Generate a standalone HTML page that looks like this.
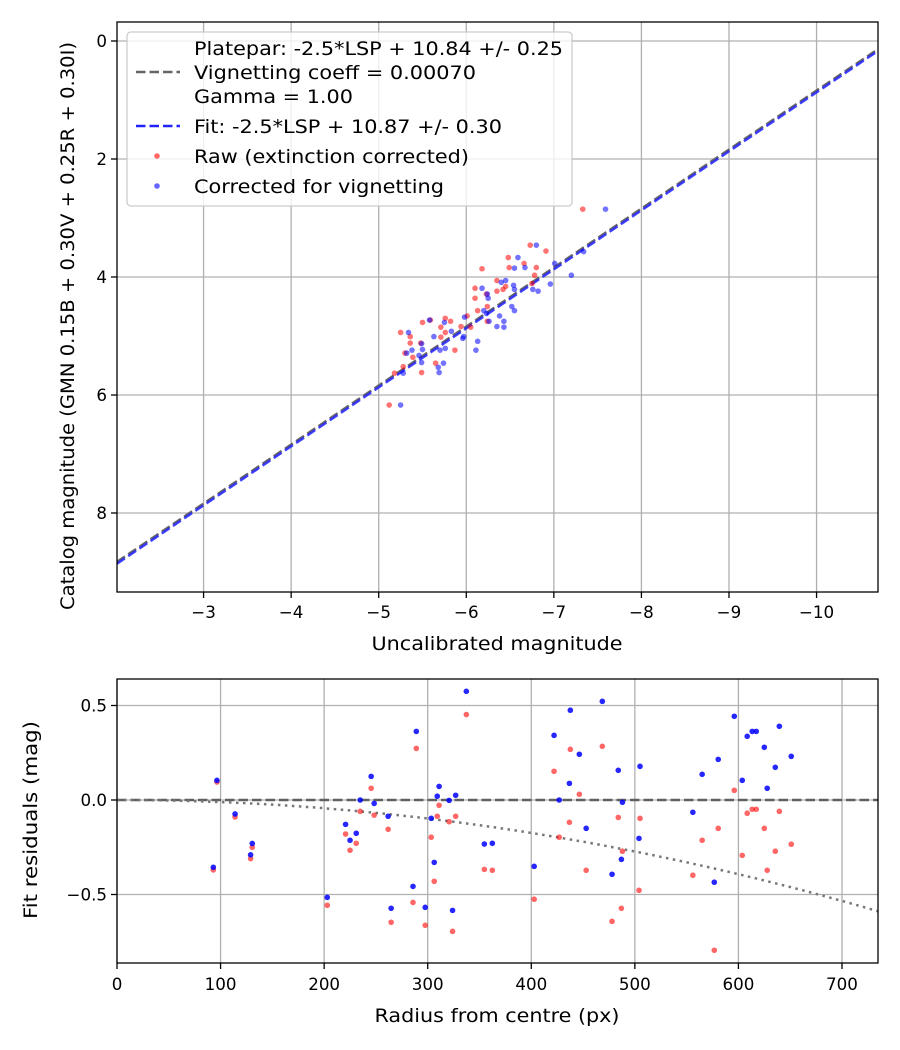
<!DOCTYPE html>
<html><head><meta charset="utf-8"><style>
html,body{margin:0;padding:0;background:#fff}
svg{display:block;font-family:"DejaVu Sans","Liberation Sans",sans-serif}
</style></head><body>
<svg id="chart" width="900" height="1050" viewBox="0 0 900 1050" xmlns="http://www.w3.org/2000/svg"></svg>
<script>
// ---- top panel data ----
const rawX = [-7.33,-6.73,-6.91,-6.48,-6.66,-6.18,-6.49,-6.80,-6.35,-6.78,-6.75,-6.10,-6.45,-6.42,-6.35,-6.10,-6.23,-6.13,-6.24,-6.01,-6.05,-6.24,-5.50,-5.59,-5.76,-5.82,-5.94,-5.71,-5.76,-5.25,-5.36,-5.71,-5.36,-5.48,-5.30,-5.39,-5.65,-5.87,-5.18,-5.49,-5.28,-5.12];
const rawY = [2.85,3.46,3.56,3.67,3.77,3.86,3.84,3.84,4.06,3.97,4.11,4.19,4.16,4.21,4.24,4.36,4.29,4.57,4.50,4.66,4.85,4.75,4.77,4.73,4.70,4.75,4.84,4.85,4.94,4.94,5.01,5.02,5.12,5.12,5.29,5.36,5.46,5.24,5.63,5.62,5.52,6.17];
const corX = [-7.59,-6.80,-6.59,-7.34,-6.55,-6.67,-7.01,-7.20,-6.96,-6.45,-6.40,-6.54,-6.55,-6.76,-6.82,-6.18,-6.25,-6.24,-6.52,-6.55,-6.20,-6.23,-6.38,-6.43,-6.35,-6.43,-6.26,-5.98,-5.75,-5.58,-5.83,-5.97,-5.96,-5.63,-5.34,-5.49,-6.13,-6.11,-5.76,-5.70,-5.50,-5.38,-5.32,-5.46,-5.49,-5.74,-5.68,-5.69,-5.28,-5.25];
const corY = [2.85,3.46,3.67,3.57,3.85,3.84,3.77,3.97,4.12,4.06,4.09,4.14,4.21,4.21,4.24,4.19,4.36,4.29,4.50,4.57,4.57,4.62,4.66,4.75,4.84,4.85,4.75,4.68,4.77,4.73,4.92,5.01,5.04,5.01,4.94,5.13,5.09,5.24,5.21,5.24,5.23,5.24,5.29,5.33,5.45,5.46,5.53,5.62,5.63,6.17];
const plateparOffset = 10.84;
const fitOffset = 10.87;
const topXTicks = [-3,-4,-5,-6,-7,-8,-9,-10];
const topYTicks = [0,2,4,6,8];
// ---- bottom panel data ----
const resR = [93,96.5,114,130.6,129,203,220.7,225,231,234.8,245.4,248.3,261.8,264.7,285.8,289,297.6,303.4,306.3,309.2,311,320.7,324,327,337.3,354.7,362.4,402.8,422,427,436.8,437.7,446.4,453,468.6,478,484,487,488,504,505,556,565,576.7,580.5,596,603.7,608.5,613.3,617.2,625,627.8,635.6,639.5,651];
const resBlue = [-0.356,0.104,-0.074,-0.23,-0.29,-0.515,-0.129,-0.213,-0.176,0.0,0.125,-0.018,-0.086,-0.573,-0.457,0.363,-0.568,-0.097,-0.33,0.02,0.072,-0.002,-0.584,0.025,0.575,-0.233,-0.229,-0.351,0.342,0,0.088,0.475,0.242,-0.15,0.522,-0.393,0.157,-0.314,-0.012,-0.203,0.178,-0.065,0.136,-0.435,0.215,0.443,0.104,0.337,0.363,0.363,0.279,0.062,0.173,0.39,0.231];
const resRed = [-0.37,0.095,-0.09,-0.25,-0.31,-0.557,-0.18,-0.266,-0.229,-0.06,0.062,-0.08,-0.155,-0.647,-0.542,0.273,-0.663,-0.197,-0.43,-0.086,-0.028,-0.115,-0.695,-0.086,0.452,-0.367,-0.372,-0.525,0.152,-0.197,-0.118,0.268,0.03,-0.372,0.284,-0.642,-0.092,-0.573,-0.271,-0.478,-0.097,-0.398,-0.213,-0.795,-0.15,0.051,-0.293,-0.07,-0.049,-0.049,-0.15,-0.372,-0.271,-0.06,-0.234];
const botXTicks = [0,100,200,300,400,500,600,700];
const botYTicks = [0.5,0.0,-0.5];
const vignetteCoef = 1.09e-6;

const NS = "http://www.w3.org/2000/svg";
const svg = document.getElementById('chart');
function mk(tag, attrs, parent){
  const e = document.createElementNS(NS, tag);
  for (const k in attrs) e.setAttribute(k, attrs[k]);
  (parent||svg).appendChild(e);
  return e;
}
function fmt(v, d){ const s = Math.abs(v).toFixed(d); return (v < 0 ? "\u2212" : "") + s; }

const T = {l:117, r:878, t:22, b:592};
const tx = v => 116 + (-2 - v) * 87.57;
const ty = v => 41 + v * 59;
const B = {l:117, r:878, t:679, b:963};
const bx = v => 117 + v * 1.0357;
const by = v => 800 - v * 189;

function clip(id, A){
  const d = mk('defs', {});
  const c = mk('clipPath', {id:id}, d);
  mk('rect', {x:A.l, y:A.t, width:A.r-A.l, height:A.b-A.t}, c);
}
clip('ctop', T); clip('cbot', B);

const gTopGrid = mk('g', {});


topXTicks.forEach(v => {
  const x = tx(v);
  mk('line', {x1:x, x2:x, y1:T.t, y2:T.b, stroke:'#b0b0b0', 'stroke-width':1.3}, gTopGrid);
  mk('line', {x1:x, x2:x, y1:T.b, y2:T.b+6, stroke:'#000', 'stroke-width':1.3}, gTopGrid);
  const t = mk('text', {x:x, y:T.b+26, 'font-size':16.7, 'text-anchor':'middle'}, gTopGrid);
  
  
  t.textContent = fmt(v, 0);
});
topYTicks.forEach(v => {
  const y = ty(v);
  mk('line', {x1:T.l, x2:T.r, y1:y, y2:y, stroke:'#b0b0b0', 'stroke-width':1.3}, gTopGrid);
  mk('line', {x1:T.l-6, x2:T.l, y1:y, y2:y, stroke:'#000', 'stroke-width':1.3}, gTopGrid);
  const t = mk('text', {x:T.l-10, y:y+6, 'font-size':16.7, 'text-anchor':'end'}, gTopGrid);
  
  
  t.textContent = fmt(v, 0);
});

const gTop = mk('g', {'clip-path':'url(#ctop)'});


const x0 = -1.5, x1 = -11.2;
const lp = mk('line', {x1:tx(x0), y1:ty(x0+plateparOffset), x2:tx(x1), y2:ty(x1+plateparOffset), stroke:'#666', 'stroke-width':2.5, 'stroke-dasharray':'9.5,4'}, gTop);


const lf = mk('line', {x1:tx(x0), y1:ty(x0+fitOffset), x2:tx(x1), y2:ty(x1+fitOffset), stroke:'#2222ff', 'stroke-width':2.5, 'stroke-dasharray':'9.5,4', opacity:0.85}, gTop);


rawX.forEach((v,i) => {
  const c = mk('circle', {cx:tx(v), cy:ty(rawY[i]), r:2.8, fill:'#ff0000', 'fill-opacity':0.55}, gTop);
  
  
});
corX.forEach((v,i) => {
  const c = mk('circle', {cx:tx(v), cy:ty(corY[i]), r:2.8, fill:'#0000ff', 'fill-opacity':0.55}, gTop);
  
  
});
mk('rect', {x:T.l, y:T.t, width:T.r-T.l, height:T.b-T.t, fill:'none', stroke:'#000', 'stroke-width':1.3});

const gL = mk('g', {});


mk('rect', {x:127, y:32, width:445, height:174, rx:4, fill:'#fff', 'fill-opacity':0.8, stroke:'#ccc', 'stroke-width':1.3}, gL);
const legendRows = [
  {y:55, w:369, text:'Platepar: -2.5*LSP + 10.84 +/- 0.25', kind:'none'},
  {y:79, w:282, text:'Vignetting coeff = 0.00070', kind:'gray'},
  {y:103, w:159, text:'Gamma = 1.00', kind:'none'},
  {y:133, w:308, text:'Fit: -2.5*LSP + 10.87 +/- 0.30', kind:'blue'},
  {y:163, w:275, text:'Raw (extinction corrected)', kind:'red-dot'},
  {y:193, w:250, text:'Corrected for vignetting', kind:'blue-dot'}
];
legendRows.forEach(r => {
  const cy = r.y - 7;
  if (r.kind === 'gray') mk('line', {x1:136, x2:180, y1:cy, y2:cy, stroke:'#666', 'stroke-width':2.5, 'stroke-dasharray':'9.5,4'}, gL);
  if (r.kind === 'blue') mk('line', {x1:136, x2:180, y1:cy, y2:cy, stroke:'#2222ff', 'stroke-width':2.5, 'stroke-dasharray':'9.5,4'}, gL);
  if (r.kind === 'red-dot') mk('circle', {cx:157, cy:cy, r:2.8, fill:'#f00', 'fill-opacity':0.6}, gL);
  if (r.kind === 'blue-dot') mk('circle', {cx:157, cy:cy, r:2.8, fill:'#00f', 'fill-opacity':0.6}, gL);
  const t = mk('text', {x:194, y:r.y, 'font-size':19, textLength:r.w, lengthAdjust:'spacingAndGlyphs'}, gL);
  
  
  t.textContent = r.text;
});

let t = mk('text', {x:497, y:650, 'font-size':19, 'text-anchor':'middle', textLength:251, lengthAdjust:'spacingAndGlyphs'});


t.textContent = 'Uncalibrated magnitude';
t = mk('text', {x:0, y:0, 'font-size':18.5, 'text-anchor':'middle', textLength:568, lengthAdjust:'spacingAndGlyphs', transform:'translate(74,326) rotate(-90)'});


t.textContent = 'Catalog magnitude (GMN 0.15B + 0.30V + 0.25R + 0.30I)';

const gBG = mk('g', {});


botXTicks.forEach(v => {
  const x = bx(v);
  mk('line', {x1:x, x2:x, y1:B.t, y2:B.b, stroke:'#b0b0b0', 'stroke-width':1.3}, gBG);
  mk('line', {x1:x, x2:x, y1:B.b, y2:B.b+6, stroke:'#000', 'stroke-width':1.3}, gBG);
  const tt = mk('text', {x:x, y:B.b+27, 'font-size':16.7, 'text-anchor':'middle'}, gBG);
  
  
  tt.textContent = String(v);
});
botYTicks.forEach(v => {
  const y = by(v);
  mk('line', {x1:B.l, x2:B.r, y1:y, y2:y, stroke:'#b0b0b0', 'stroke-width':1.3}, gBG);
  mk('line', {x1:B.l-6, x2:B.l, y1:y, y2:y, stroke:'#000', 'stroke-width':1.3}, gBG);
  const tt = mk('text', {x:B.l-10, y:y+6, 'font-size':16.7, 'text-anchor':'end'}, gBG);
  
  
  tt.textContent = fmt(v, 1);
});
const gB = mk('g', {'clip-path':'url(#cbot)'});


const zl = mk('line', {x1:B.l, x2:B.r, y1:by(0), y2:by(0), stroke:'#555', 'stroke-width':2.5, 'stroke-dasharray':'9.5,4', opacity:0.9}, gB);


let pts = [];
for (let r = 0; r <= 740; r += 5) pts.push(bx(r).toFixed(1) + ',' + by(-vignetteCoef*r*r).toFixed(1));
const vc = mk('polyline', {points:pts.join(' '), fill:'none', stroke:'#777', 'stroke-width':2.5, 'stroke-dasharray':'2.5,4.5'}, gB);


resR.forEach((r,i) => {
  const c = mk('circle', {cx:bx(r), cy:by(resRed[i]), r:2.8, fill:'#ff0000', 'fill-opacity':0.6}, gB);
  
  
});
resR.forEach((r,i) => {
  const c = mk('circle', {cx:bx(r), cy:by(resBlue[i]), r:2.8, fill:'#0000ff', 'fill-opacity':0.85}, gB);
  
  
});
mk('rect', {x:B.l, y:B.t, width:B.r-B.l, height:B.b-B.t, fill:'none', stroke:'#000', 'stroke-width':1.3});
t = mk('text', {x:497, y:1022, 'font-size':19, 'text-anchor':'middle', textLength:245, lengthAdjust:'spacingAndGlyphs'});


t.textContent = 'Radius from centre (px)';
t = mk('text', {x:0, y:0, 'font-size':18.5, 'text-anchor':'middle', textLength:198, lengthAdjust:'spacingAndGlyphs', transform:'translate(37,820) rotate(-90)'});


t.textContent = 'Fit residuals (mag)';
</script>
</body></html>
